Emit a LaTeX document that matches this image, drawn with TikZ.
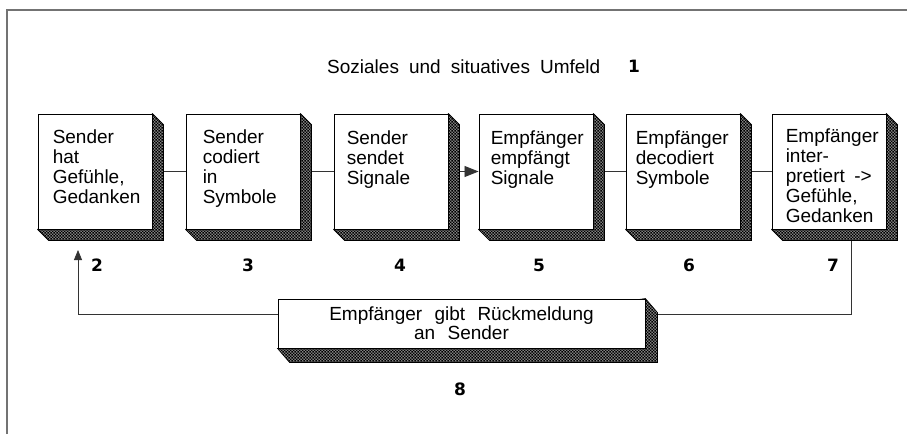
\documentclass[tikz,border=0pt]{standalone}
\usepackage{fontspec}
\setmainfont{Liberation Sans}
\newfontfamily\numfont{DejaVu Sans}
\usetikzlibrary{patterns.meta,arrows.meta,calc}
\pgfdeclarelayer{bg}\pgfdeclarelayer{mid}\pgfsetlayers{bg,mid,main}
\tikzdeclarepattern{name=chk, type=uncolored,
  bounding box={(0pt,0pt) and (3.4pt,3.4pt)}, tile size={(3.4pt,3.4pt)},
  code={\fill (0pt,0pt) rectangle (1.7pt,1.7pt); \fill (1.7pt,1.7pt) rectangle (3.4pt,3.4pt);}}
\newcommand\shadowpath[3]{(#1.north east) -- ++(#2,#3) -- ([shift={(#2,#3)}]#1.south east) -- ([shift={(#2,#3)}]#1.south west) -- (#1.south west) -- cycle}
\newcommand\xshadow[3]{%
  \begin{pgfonlayer}{mid}
  \fill[black!50] \shadowpath{#1}{#2}{#3};
  \fill[pattern=chk, pattern color=black] \shadowpath{#1}{#2}{#3};
  \draw[black, line width=0.6pt] \shadowpath{#1}{#2}{#3};
  \end{pgfonlayer}}
\newcommand\wsp[1]{\spaceskip=#1\relax}
\begin{document}
\begin{tikzpicture}[x=1pt,y=-1pt,
  box/.style={draw=black, line width=0.9pt, fill=white, minimum width=114pt, minimum height=115pt, inner sep=0pt},
  btxt/.style={anchor=north west, align=left, inner sep=0pt, font=\fontsize{19}{20}\selectfont\wsp{0.5em}},
  num/.style={anchor=base west, inner sep=0pt, font=\numfont\bfseries\fontsize{17}{17}\selectfont},
  conn/.style={line width=0.8pt, draw=black!80},
  tip/.style={-{Triangle[length=14pt,width=11pt]}}]
\useasboundingbox (0,0) rectangle (907,434);
% frame
\draw[line width=1.2pt, black!55] (7,434) -- (7,10) -- (907,10);
% title
\node[anchor=base west, inner sep=0pt, font=\fontsize{19}{20}\selectfont\wsp{0.53em}] (title) at (327,73) {Soziales und situatives Umfeld};
\node[num] (n1) at (628,72) {1};
% boxes
\node[box] (b1) at (95,171.5) {};
\node[box] (b2) at (243,171.5) {};
\node[box] (b3) at (391,171.5) {};
\node[box] (b4) at (536,171.5) {};
\node[box] (b5) at (683,171.5) {};
\node[box] (b6) at (829,171.5) {};
\xshadow{b1}{11}{11}
\xshadow{b2}{11}{11}
\xshadow{b3}{11}{11}
\xshadow{b4}{11}{11}
\xshadow{b5}{11}{11}
\xshadow{b6}{11}{11}
\node[btxt] (t1) at ([shift={(15,16)}]b1.north west) {Sender\\hat\\Gefühle,\\Gedanken};
\node[btxt] (t2) at ([shift={(17,16)}]b2.north west) {Sender\\codiert\\in\\Symbole};
\node[btxt] (t3) at ([shift={(13,17)}]b3.north west) {Sender\\sendet\\Signale};
\node[btxt] (t4) at ([shift={(12,17)}]b4.north west) {Empfänger\\empfängt\\Signale};
\node[btxt] (t5) at ([shift={(10,17)}]b5.north west) {Empfänger\\decodiert\\Symbole};
\node[btxt] (t6) at ([shift={(14,15)}]b6.north west) {Empfänger\\inter-\\pretiert ->\\Gefühle,\\Gedanken};
% numbers
\node[num] (n2) at (91,271) {2};
\node[num] (n3) at (242,271) {3};
\node[num] (n4) at (394,271) {4};
\node[num] (n5) at (533,271) {5};
\node[num] (n6) at (683,271) {6};
\node[num] (n7) at (827,271) {7};
\node[num] (n8) at (454,395) {8};
% feedback box
\node[draw=black, line width=0.9pt, fill=white, minimum width=367pt, minimum height=49pt, inner sep=0pt, align=center,
      font=\fontsize{19}{19}\selectfont\wsp{0.65em}] (fb) at (461.5,323.5) {Empfänger gibt Rückmeldung\\an Sender};
\xshadow{fb}{12}{14}
% connectors
\coordinate (c7) at ([shift={(80,11)}]b6.south west);
\coordinate (c2) at (78,250);
\begin{pgfonlayer}{bg}
\draw[conn] (b1.east) -- (b2.west);
\draw[conn] (b2.east) -- (b3.west);
\draw[conn, tip] (b3.east) -- (b4.west);
\draw[conn] (b4.east) -- (b5.west);
\draw[conn] (b5.east) -- (b6.west);
\draw[conn] (c7) |- ([yshift=9.5]fb.east);
\draw[conn, -{Triangle[length=10pt,width=8pt]}] ([yshift=9.5]fb.west) -| (c2);
\end{pgfonlayer}
\end{tikzpicture}
\end{document}
